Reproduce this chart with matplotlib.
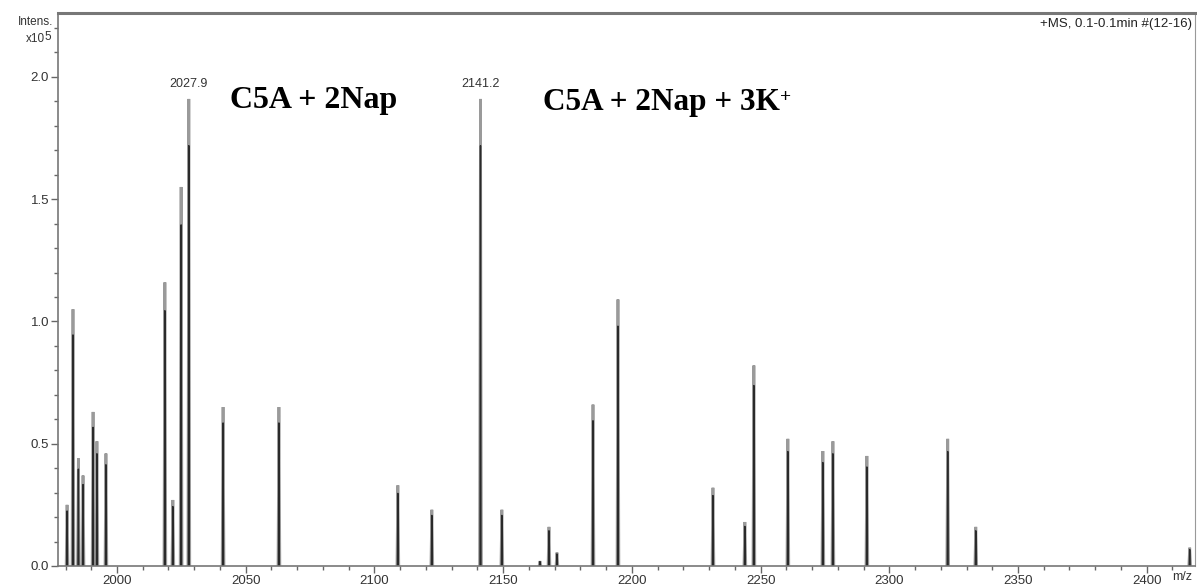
import numpy as np
import matplotlib
matplotlib.use("Agg")
import matplotlib.pyplot as plt
from matplotlib.ticker import MultipleLocator

# peak positions (m/z) and intensities (x10^5)
mz = [1980.6, 1982.9, 1985.0, 1986.8, 1990.7, 1992.2, 1995.7,
      2018.6, 2021.7, 2024.9, 2027.9, 2041.2, 2062.9,
      2109.1, 2122.3, 2141.2, 2149.5, 2164.3, 2167.8, 2170.9,
      2184.9, 2194.6, 2231.5, 2243.9, 2247.4, 2260.6,
      2274.2, 2278.1, 2291.3, 2322.7, 2333.6, 2416.7]
intens = [0.25, 1.05, 0.44, 0.37, 0.63, 0.51, 0.46,
          1.16, 0.27, 1.55, 1.91, 0.65, 0.65,
          0.33, 0.23, 1.91, 0.23, 0.02, 0.16, 0.055,
          0.66, 1.09, 0.32, 0.18, 0.82, 0.52,
          0.47, 0.51, 0.45, 0.52, 0.16, 0.075]
labeled_mz = [2027.9, 2141.2]
labeled_h = [1.91, 1.91]
xticks = [2000, 2050, 2100, 2150, 2200, 2250, 2300, 2350, 2400]
yticks = [0.0, 0.5, 1.0, 1.5, 2.0]

fig = plt.figure(figsize=(11.97, 5.85), dpi=100)
ax = fig.add_axes([0.0485, 0.0325, 0.9495, 0.9455])

w = 0.35
for m, h in zip(mz, intens):
    ax.plot([m - w, m, m + w], [0, h, 0], color='#9a9a9a', lw=2.0, solid_joinstyle='miter')
    ax.plot([m - w * 0.5, m, m + w * 0.5], [0, h * 0.9, 0], color='#2a2a2a', lw=1.0)

ax.set_xlim(1977.1, 2418.6)
ax.set_ylim(0, 2.262)
ax.set_xticks(xticks)
ax.set_yticks(yticks)
ax.set_yticklabels([f"{v:.1f}" for v in yticks])
ax.xaxis.set_minor_locator(MultipleLocator(10))
ax.yaxis.set_minor_locator(MultipleLocator(0.1))
ax.tick_params(which='major', length=5, width=1, color='#666666', labelsize=9.5,
               labelcolor='#333333', pad=1.5)
ax.tick_params(which='minor', length=3, width=1, color='#666666')
for lab in ax.get_xticklabels() + ax.get_yticklabels():
    lab.set_fontfamily('Liberation Sans')

for s in ['left', 'bottom']:
    ax.spines[s].set_color('#777777')
    ax.spines[s].set_linewidth(1.2)
ax.spines['top'].set_color('#777777')
ax.spines['top'].set_linewidth(2.2)
ax.spines['right'].set_color('#999999')
ax.spines['right'].set_linewidth(0.8)

for m, h in zip(labeled_mz, labeled_h):
    ax.text(m, h + 0.035, f"{m:.1f}", ha='center', va='bottom', fontsize=9,
            color='#333333', family='Liberation Sans')

ax.text(2043.9, 1.873, "C5A + 2Nap", fontsize=23, fontweight='bold',
        family='Liberation Serif', ha='left', va='baseline')
t2 = ax.text(2165.4, 1.865, "C5A + 2Nap + 3K", fontsize=22.5, fontweight='bold',
             family='Liberation Serif', ha='left', va='baseline')

ax.text(0.998, 0.99, "+MS, 0.1-0.1min #(12-16)", transform=ax.transAxes,
        ha='right', va='top', fontsize=9.5, color='#222222', family='Liberation Sans')
fig.text(53 / 1197, 1 - 22 / 585, "Intens.", ha='right', va='center', fontsize=8.5,
         color='#333333', family='Liberation Sans')
t10 = fig.text(45 / 1197, 1 - 39 / 585, "x10", ha='right', va='center', fontsize=8.5,
               color='#333333', family='Liberation Sans')
fig.text(1182 / 1197, 1 - 577 / 585, "m/z", ha='center', va='center', fontsize=9,
         color='#333333', family='Liberation Sans')

fig.canvas.draw()
W, H = fig.bbox.width, fig.bbox.height
bb = t2.get_window_extent()
fig.text((bb.x1 + 0.5) / W, (bb.y1 - 1) / H, "+",
         fontsize=14, fontweight='bold', family='Liberation Serif', ha='left', va='top')
bb10 = t10.get_window_extent()
fig.text((bb10.x1 - 0.5) / W, (bb10.y1 + 2) / H, "5", ha='left', va='top', fontsize=8.5,
         color='#333333', family='Liberation Sans')

fig.savefig("out.png", dpi=100)
